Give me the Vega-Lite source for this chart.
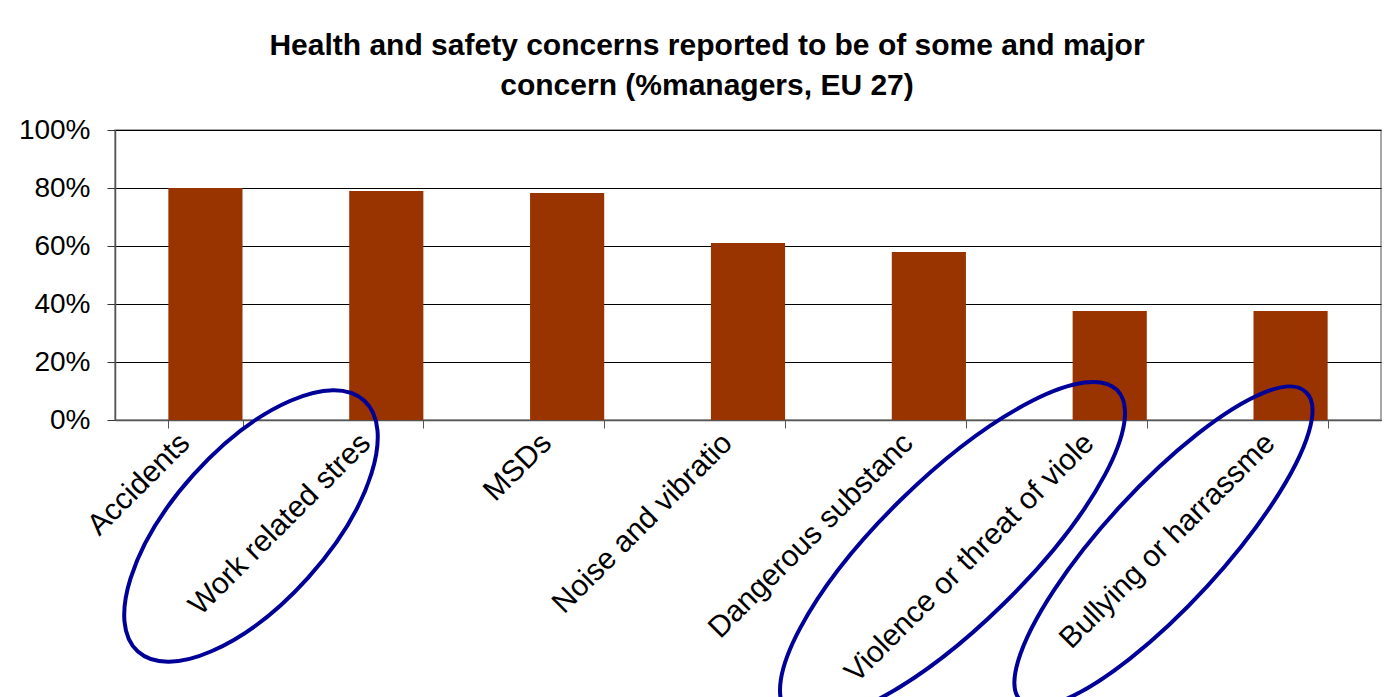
{
  "$schema": "https://vega.github.io/schema/vega-lite/v6.json",
  "autosize": {"type": "none"},
  "width": 1266,
  "height": 290,
  "padding": {"left": 115, "top": 130, "right": 3, "bottom": 277},
  "background": "white",
  "title": {
    "text": ["Health and safety concerns reported to be of some and major", "concern (%managers, EU 27)"],
    "font": "Liberation Sans",
    "fontSize": 30,
    "fontWeight": "bold",
    "color": "black",
    "anchor": "middle",
    "dx": -41,
    "offset": 15,
    "lineHeight": 40
  },
  "config": {
    "view": {"stroke": "#8c8c8c", "strokeWidth": 1.5},
    "axis": {"labelFont": "Liberation Sans", "labelColor": "black"}
  },
  "data": {
    "values": [
      {"concern": "Accidents", "share": 0.80},
      {"concern": "Work related stress", "share": 0.79},
      {"concern": "MSDs", "share": 0.783},
      {"concern": "Noise and vibration", "share": 0.61},
      {"concern": "Dangerous substances", "share": 0.579},
      {"concern": "Violence or threat of violence", "share": 0.376},
      {"concern": "Bullying or harrassment", "share": 0.376}
    ]
  },
  "encoding": {
    "x": {
      "field": "concern",
      "type": "nominal",
      "sort": null,
      "title": null,
      "scale": {"paddingInner": 0.59, "paddingOuter": 0.295},
      "axis": {
        "labelAngle": -45,
        "labelAlign": "right",
        "labelBaseline": "middle",
        "labelFontSize": 30,
        "labelLimit": 500,
        "labelPadding": 10,
        "labelOffset": -21,
        "tickBand": "extent",
        "tickSize": 8,
        "tickColor": "#555555",
        "domainColor": "#555555",
        "domainWidth": 1.5,
        "labelExpr": "datum.label == 'Work related stress' ? 'Work related stres' : datum.label == 'Noise and vibration' ? 'Noise and vibratio' : datum.label == 'Dangerous substances' ? 'Dangerous substanc' : datum.label == 'Violence or threat of violence' ? 'Violence or threat of viole' : datum.label == 'Bullying or harrassment' ? 'Bullying or harrassme' : datum.label"
      }
    }
  },
  "layer": [
    {
      "mark": {"type": "bar", "color": "#993300"},
      "encoding": {
        "y": {
          "field": "share",
          "type": "quantitative",
          "title": null,
          "scale": {"domain": [0, 1], "nice": false},
          "axis": {
            "values": [0, 0.2, 0.4, 0.6, 0.8, 1],
            "format": ".0%",
            "labelFontSize": 28,
            "labelPadding": 17,
            "tickSize": 8,
            "tickColor": "#333333",
            "domainColor": "#555555",
            "domainWidth": 1.5,
            "grid": true,
            "gridColor": "#000000",
            "gridWidth": 1
          }
        }
      }
    },
    {
      "transform": [{"filter": "datum.concern == 'Work related stress'"}],
      "mark": {
        "type": "point",
        "shape": "M -0.222 -0.196 A 1.69 0.77 -48 1 0 -2.484 2.316 A 1.69 0.77 -48 1 0 -0.222 -0.196 Z",
        "size": 40000,
        "filled": false,
        "color": "#000099",
        "strokeWidth": 4,
        "opacity": 1
      },
      "encoding": {"y": {"datum": 0, "type": "quantitative"}}
    },
    {
      "transform": [{"filter": "datum.concern == 'Violence or threat of violence'"}],
      "mark": {
        "type": "point",
        "shape": "M 0.075 -0.298 A 2.305 0.731 -44.4 1 0 -3.219 2.928 A 2.305 0.731 -44.4 1 0 0.075 -0.298 Z",
        "size": 40000,
        "filled": false,
        "color": "#000099",
        "strokeWidth": 4,
        "opacity": 1
      },
      "encoding": {"y": {"datum": 0, "type": "quantitative"}}
    },
    {
      "transform": [{"filter": "datum.concern == 'Bullying or harrassment'"}],
      "mark": {
        "type": "point",
        "shape": "M 0.150 -0.281 A 2.10 0.584 -47.4 1 0 -2.692 2.811 A 2.10 0.584 -47.4 1 0 0.150 -0.281 Z",
        "size": 40000,
        "filled": false,
        "color": "#000099",
        "strokeWidth": 4,
        "opacity": 1
      },
      "encoding": {"y": {"datum": 0, "type": "quantitative"}}
    }
  ]
}
